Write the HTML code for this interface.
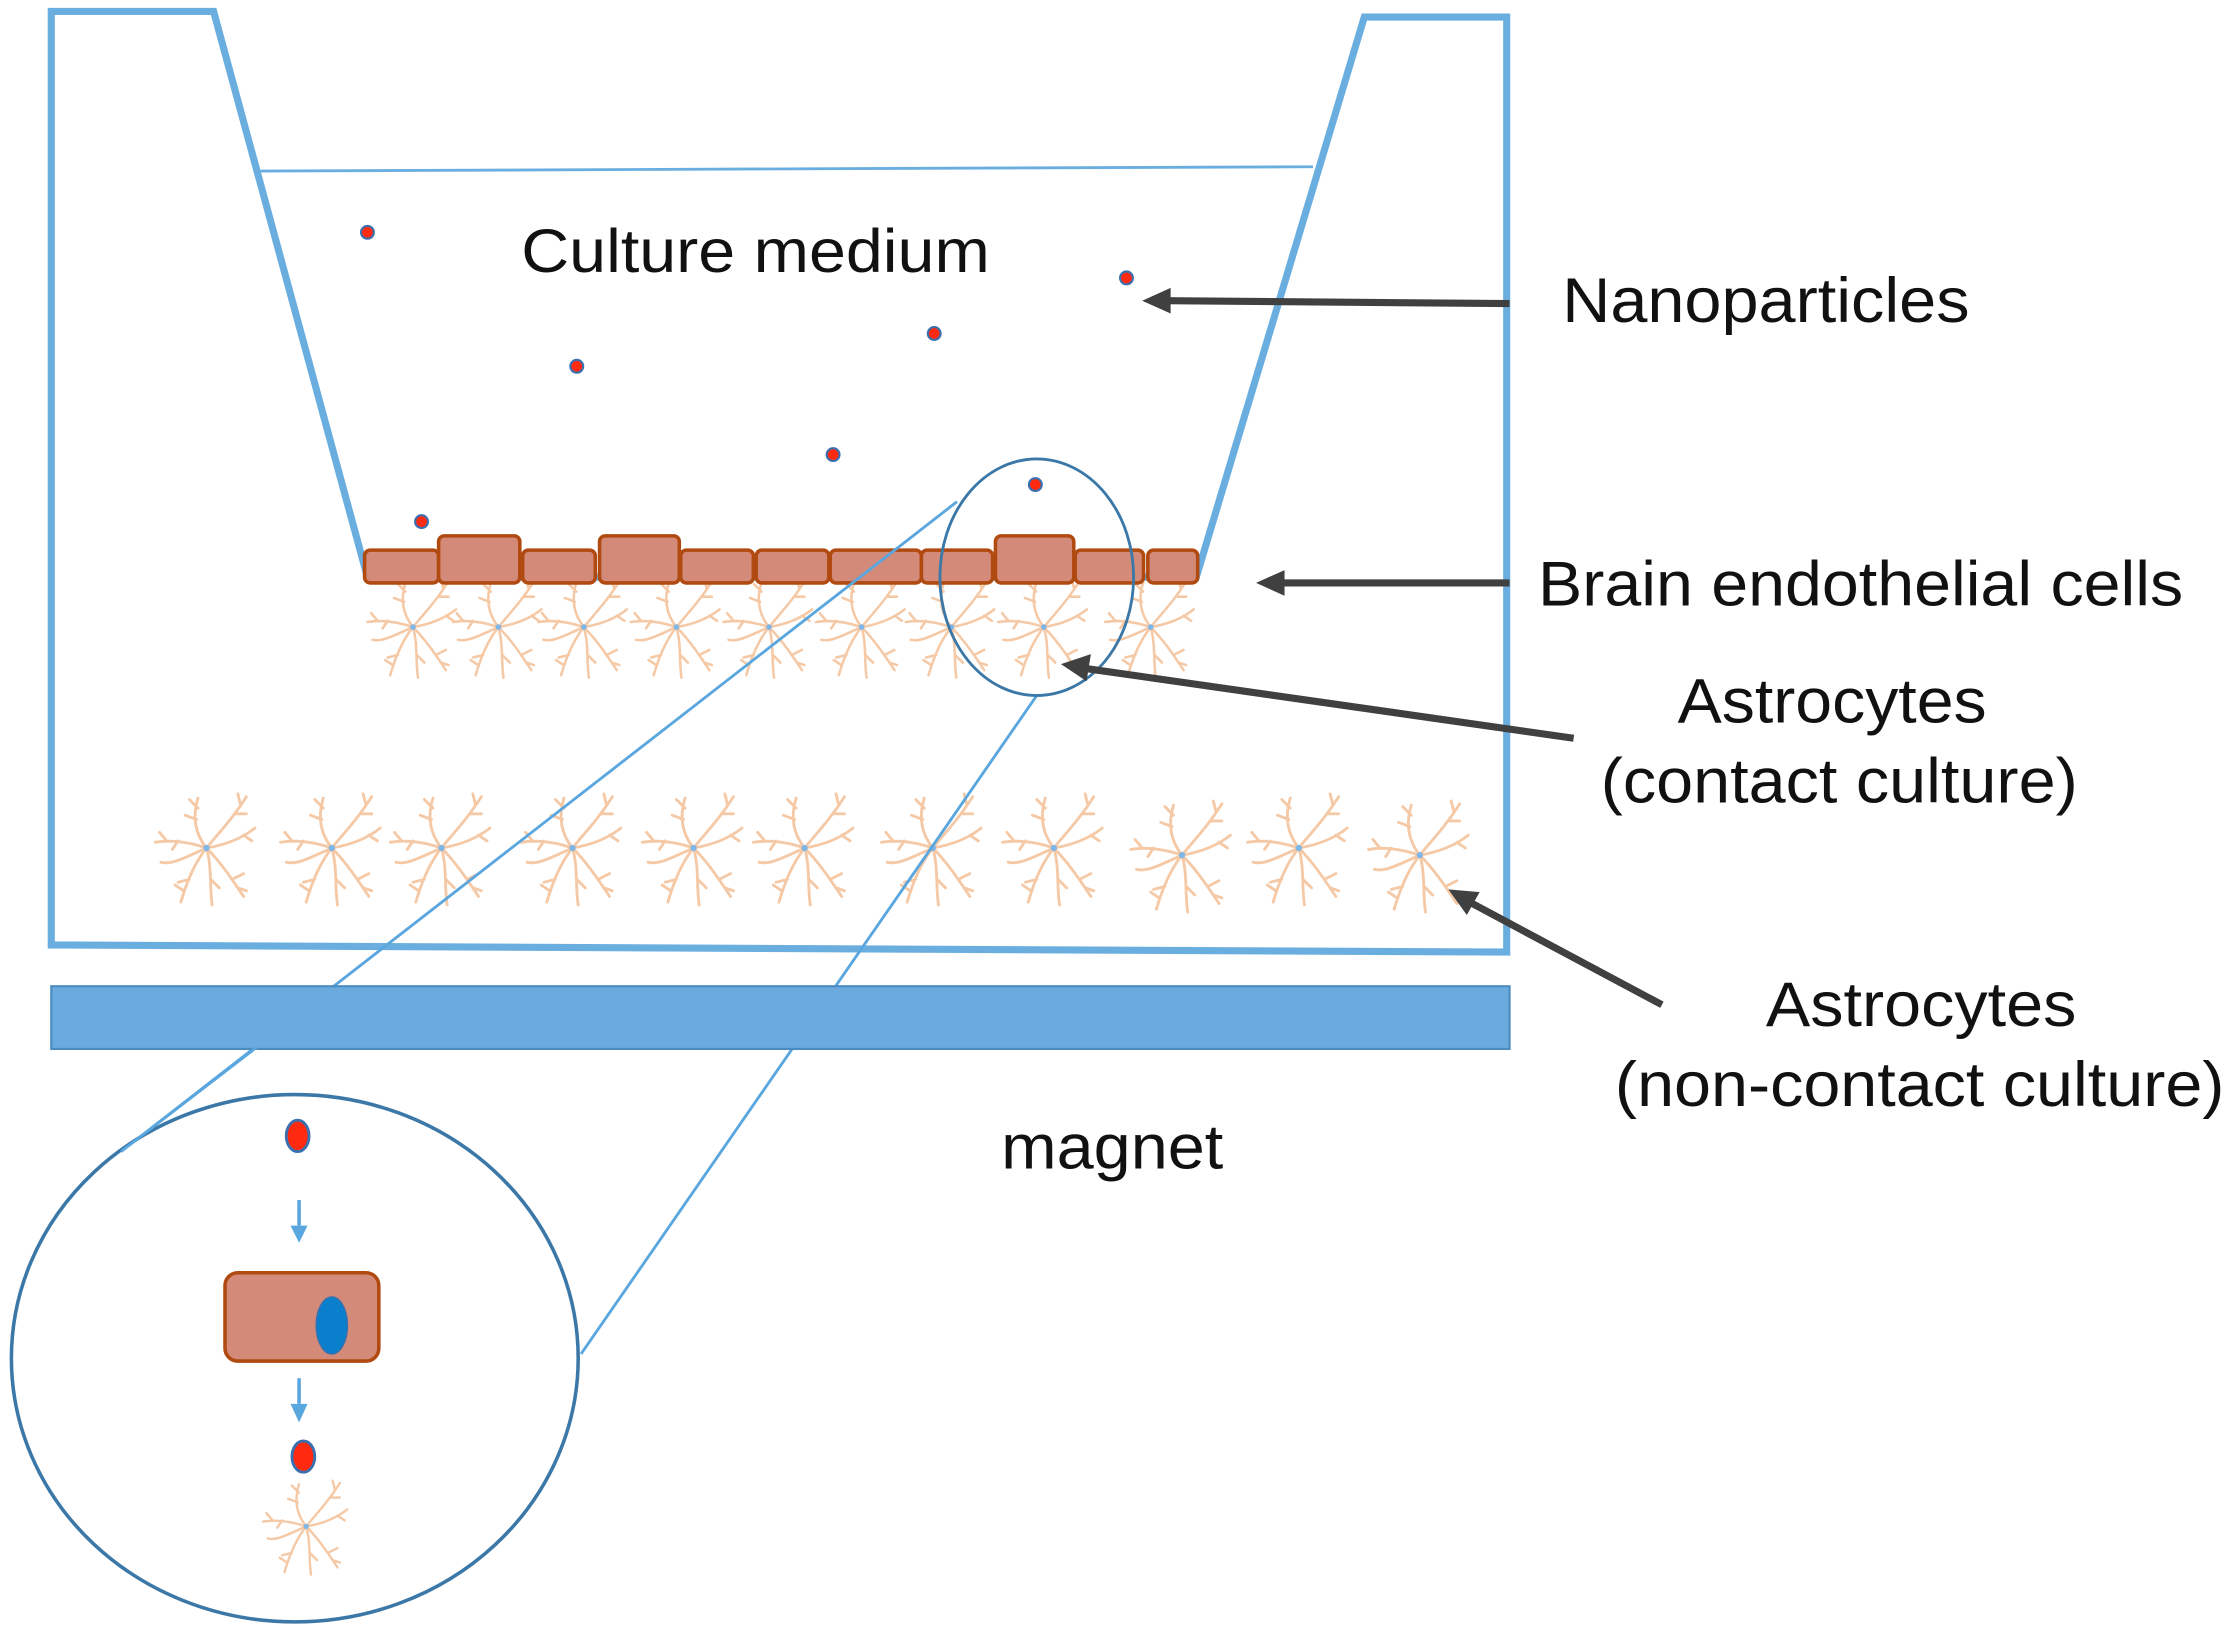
<!DOCTYPE html>
<html><head><meta charset="utf-8"><style>
html,body{margin:0;padding:0;background:#fff;}
svg{display:block;}
text{font-family:"Liberation Sans",Arial,sans-serif;fill:#111;}
</style></head><body>
<svg width="2233" height="1639" viewBox="0 0 1568 1150" preserveAspectRatio="none" xmlns="http://www.w3.org/2000/svg">
<defs>
<symbol id="ast" viewBox="-45 -45 90 90" overflow="visible">
<g fill="none" stroke="#f5c9a6" stroke-width="2" stroke-linecap="round">
<path d="M0,0 C-8,-10 -10,-22 -6,-35 M-6,-28 l-6,-6 M-7,-20 l-8,-3"/>
<path d="M0,0 C8,-10 18,-20 28,-36 M20,-24 l8,0 M24,-30 l-2,-8"/>
<path d="M0,0 C-12,-4 -24,-6 -36,-4 M-28,-5 l-5,-6 M-20,-5 l-4,6"/>
<path d="M0,0 C12,-2 24,-6 34,-14 M26,-9 l6,4"/>
<path d="M0,0 C-8,10 -14,24 -18,38 M-12,22 l-8,2 M-16,30 l-6,-4"/>
<path d="M0,0 C4,14 2,28 4,40 M3,22 l6,6"/>
<path d="M0,0 C10,10 18,22 26,34 M18,22 l8,-4 M22,28 l6,2"/>
<path d="M0,0 C-14,6 -24,12 -32,10"/>
</g>
<circle cx="0" cy="0" r="2.2" fill="#7fb6e8"/>
</symbol>
</defs>

<path d="M36,663 L36,8 L150,8 L258,405 L840,405 L958,12 L1058,12 L1058,668 Z" fill="none" stroke="#6aaee0" stroke-width="5" stroke-linejoin="miter"/>
<line x1="183" y1="120" x2="922" y2="117" stroke="#6aaee0" stroke-width="2"/>

<g>
<use href="#ast" x="250" y="400" width="80" height="80"/>
<use href="#ast" x="310" y="400" width="80" height="80"/>
<use href="#ast" x="370" y="400" width="80" height="80"/>
<use href="#ast" x="435" y="400" width="80" height="80"/>
<use href="#ast" x="500" y="400" width="80" height="80"/>
<use href="#ast" x="565" y="400" width="80" height="80"/>
<use href="#ast" x="628" y="400" width="80" height="80"/>
<use href="#ast" x="693" y="400" width="80" height="80"/>
<use href="#ast" x="768" y="400" width="80" height="80"/>
</g>
<g>
<use href="#ast" x="100" y="550" width="90" height="90"/>
<use href="#ast" x="188" y="550" width="90" height="90"/>
<use href="#ast" x="265" y="550" width="90" height="90"/>
<use href="#ast" x="357" y="550" width="90" height="90"/>
<use href="#ast" x="442" y="550" width="90" height="90"/>
<use href="#ast" x="520" y="550" width="90" height="90"/>
<use href="#ast" x="610" y="550" width="90" height="90"/>
<use href="#ast" x="695" y="550" width="90" height="90"/>
<use href="#ast" x="785" y="555" width="90" height="90"/>
<use href="#ast" x="867" y="550" width="90" height="90"/>
<use href="#ast" x="952" y="555" width="90" height="90"/>
</g>

<g fill="#d48a78" stroke="#b04a10" stroke-width="2.5">
<rect x="256" y="386" width="52" height="23" rx="4"/>
<rect x="308" y="376" width="57" height="33" rx="4"/>
<rect x="367" y="386" width="51" height="23" rx="4"/>
<rect x="421" y="376" width="56" height="33" rx="4"/>
<rect x="478" y="386" width="51" height="23" rx="4"/>
<rect x="531" y="386" width="51" height="23" rx="4"/>
<rect x="583" y="386" width="64" height="23" rx="4"/>
<rect x="647" y="386" width="50" height="23" rx="4"/>
<rect x="699" y="376" width="55" height="33" rx="4"/>
<rect x="755" y="386" width="48" height="23" rx="4"/>
<rect x="806" y="386" width="35" height="23" rx="4"/>
</g>

<line x1="672" y1="352" x2="85" y2="808" stroke="#5aa6de" stroke-width="2"/>
<line x1="728" y1="488" x2="408" y2="950" stroke="#5aa6de" stroke-width="2"/>
<ellipse cx="728" cy="405" rx="68" ry="83" fill="none" stroke="#3b78a8" stroke-width="2"/>

<rect x="36" y="692" width="1024" height="44" fill="#6aaade" stroke="#4a8cc0" stroke-width="1.5"/>

<g fill="#ff2a10" stroke="#3a70b0" stroke-width="1.5">
<circle cx="258" cy="163" r="4.5"/><circle cx="405" cy="257" r="4.5"/><circle cx="656" cy="234" r="4.5"/>
<circle cx="791" cy="195" r="4.5"/><circle cx="585" cy="319" r="4.5"/><circle cx="296" cy="366" r="4.5"/>
<circle cx="727" cy="340" r="4.5"/>
</g>

<g stroke="#404040" stroke-width="5" fill="#404040">
<line x1="1060" y1="213" x2="820" y2="211"/>
<polygon points="802,211 822,202 822,220" stroke="none"/>
<line x1="1060" y1="409" x2="900" y2="409"/>
<polygon points="882,409 902,400 902,418" stroke="none"/>
<line x1="1105" y1="518" x2="762" y2="469"/>
<polygon points="745,466 766,459 763,478" stroke="none"/>
<line x1="1167" y1="705" x2="1032" y2="633"/>
<polygon points="1017,624 1039,626 1030,642" stroke="none"/>
</g>

<ellipse cx="207" cy="953" rx="199" ry="185" fill="#fff" stroke="#3b78a8" stroke-width="2.5"/>
<line x1="85" y1="808" x2="180" y2="735" stroke="#5aa6de" stroke-width="2"/>
<ellipse cx="209" cy="797" rx="8" ry="11" fill="#ff2a10" stroke="#3a70b0" stroke-width="2"/>
<line x1="210" y1="842" x2="210" y2="860" stroke="#5aa6de" stroke-width="2.5"/>
<polygon points="204,860 216,860 210,872" fill="#5aa6de"/>
<rect x="158" y="893" width="108" height="62" rx="9" fill="#d48a78" stroke="#b04a10" stroke-width="2.5"/>
<ellipse cx="233" cy="930" rx="11" ry="20" fill="#0a7fcc" stroke="#3a70b0" stroke-width="1"/>
<line x1="210" y1="967" x2="210" y2="985" stroke="#5aa6de" stroke-width="2.5"/>
<polygon points="204,985 216,985 210,998" fill="#5aa6de"/>
<ellipse cx="213" cy="1022" rx="8" ry="11" fill="#ff2a10" stroke="#3a70b0" stroke-width="2"/>
<use href="#ast" x="177" y="1033" width="76" height="76"/>

<text x="366" y="191" font-size="43" textLength="329" lengthAdjust="spacingAndGlyphs">Culture medium</text>
<text x="1097" y="226" font-size="44" textLength="286" lengthAdjust="spacingAndGlyphs">Nanoparticles</text>
<text x="1080" y="425" font-size="44" textLength="453" lengthAdjust="spacingAndGlyphs">Brain endothelial cells</text>
<text x="1178" y="507" font-size="44" textLength="217" lengthAdjust="spacingAndGlyphs">Astrocytes</text>
<text x="1124" y="563" font-size="44" textLength="335" lengthAdjust="spacingAndGlyphs">(contact culture)</text>
<text x="1240" y="720" font-size="44" textLength="218" lengthAdjust="spacingAndGlyphs">Astrocytes</text>
<text x="1134" y="776" font-size="44" textLength="428" lengthAdjust="spacingAndGlyphs">(non-contact culture)</text>
<text x="703" y="820" font-size="44" textLength="156" lengthAdjust="spacingAndGlyphs">magnet</text>
</svg>
</body></html>
